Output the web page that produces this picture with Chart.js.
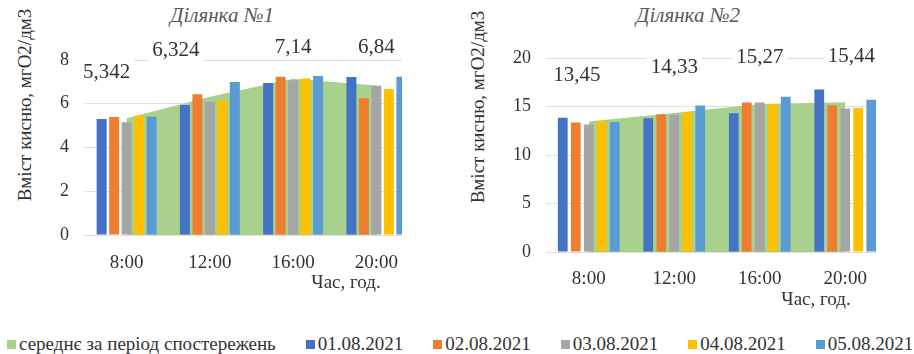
<!DOCTYPE html>
<html>
<head>
<meta charset="utf-8">
<script src="https://cdn.jsdelivr.net/npm/chart.js@4.4.1/dist/chart.umd.min.js"></script>
<style>
  body { margin: 0; width: 914px; height: 354px; background: #fff; position: relative; overflow: hidden;
         font-family: "Liberation Serif", "DejaVu Serif", serif; color: #333; }
  .clip { position: absolute; top: 0; height: 300px; overflow: hidden; }
  .txt { position: absolute; white-space: nowrap; transform: translate(-50%, -50%); }
  .title { font-style: italic; font-size: 21px; color: #595959; }
  .ytitle { font-size: 19px; transform: translate(-50%, -50%) rotate(-90deg); }
  .xtitle { font-size: 19px; }
  #legend { position: absolute; left: 7px; top: 333px; display: flex; gap: 30px; font-size: 19px; }
  #legend span.item { display: flex; align-items: center; white-space: nowrap; }
  #legend i { display: inline-block; width: 9px; height: 9px; margin-right: 3px; }
</style>
</head>
<body>

<div class="txt title" style="left:222px; top:15px;">Ділянка №1</div>
<div class="txt title" style="left:688px; top:15px;">Ділянка №2</div>
<div class="txt ytitle" style="left:25px; top:105px;">Вміст кисню, мгО2/дм3</div>
<div class="txt ytitle" style="left:478px; top:107px;">Вміст кисню, мгО2/дм3</div>

<div class="clip" style="left:0; width:402px;"><canvas id="chart1" width="418" height="300"></canvas></div>
<div class="clip" style="left:454px; width:422px;"><canvas id="chart2" width="434" height="300"></canvas></div>

<div class="txt xtitle" style="left:346px; top:282px;">Час, год.</div>
<div class="txt xtitle" style="left:816px; top:299px;">Час, год.</div>

<div id="legend"></div>

<script>
// Категорії та підписи
const hours = ['8:00', '12:00', '16:00', '20:00'];
const dates = ['01.08.2021', '02.08.2021', '03.08.2021', '04.08.2021', '05.08.2021'];
const avgLabel = 'середнє за період спостережень';

// Ділянка №1, мгО2/дм3
const site1Avg = [5.342, 6.324, 7.14, 6.84];
const site1Day1 = [5.30, 5.94, 6.95, 7.22];
const site1Day2 = [5.40, 6.44, 7.23, 6.25];
const site1Day3 = [5.15, 6.09, 7.08, 6.82];
const site1Day4 = [5.45, 6.16, 7.15, 6.68];
const site1Day5 = [5.41, 7.00, 7.27, 7.23];

// Ділянка №2, мгО2/дм3
const site2Avg = [13.45, 14.33, 15.27, 15.44];
const site2Day1 = [13.85, 13.80, 14.30, 16.75];
const site2Day2 = [13.35, 14.20, 15.40, 15.10];
const site2Day3 = [13.15, 14.15, 15.40, 14.80];
const site2Day4 = [13.50, 14.40, 15.22, 14.85];
const site2Day5 = [13.40, 15.10, 16.00, 15.70];

const dayColors = ['#4472c4', '#ed7d31', '#a5a5a5', '#ffc000', '#5b9bd5'];
const avgColor = '#a9d18e';
const serif = '"Liberation Serif", "DejaVu Serif", serif';

// легенда спільна для двох графіків
const legend = document.getElementById('legend');
[[avgLabel, avgColor]].concat(dates.map((d, i) => [d, dayColors[i]])).forEach(([label, color]) => {
  const el = document.createElement('span');
  el.className = 'item';
  el.innerHTML = '<i style="background:' + color + '"></i>' + label;
  legend.appendChild(el);
});

// підписи середніх значень (у білій рамці, над точками)
const avgLabelsPlugin = {
  id: 'avgLabels',
  afterDatasetsDraw(chart, args, opts) {
    const { ctx } = chart;
    const meta = chart.getDatasetMeta(0);
    ctx.save();
    ctx.font = '21px ' + serif;
    ctx.textAlign = 'center';
    ctx.textBaseline = 'middle';
    meta.data.forEach((pt, i) => {
      const text = String(chart.data.datasets[0].data[i]).replace('.', ',');
      const x = pt.x + (opts.shift[i] || 0);
      const y = Math.max(pt.y - 46, opts.minY);
      const w = ctx.measureText(text).width;
      ctx.fillStyle = '#fff';
      ctx.fillRect(x - w / 2 - 4, y - 13, w + 8, 26);
      ctx.fillStyle = '#333';
      ctx.fillText(text, x, y);
    });
    ctx.restore();
  }
};

function makeChart(id, avg, days, cfg) {
  const datasets = [{
    type: 'line',
    label: avgLabel,
    data: avg,
    backgroundColor: avgColor,
    borderColor: avgColor,
    borderWidth: 0,
    pointRadius: 0,
    fill: 'origin',
    tension: 0,
    order: 10
  }].concat(days.map((d, i) => ({
    type: 'bar',
    label: dates[i],
    data: d,
    backgroundColor: dayColors[i],
    borderWidth: 0,
    categoryPercentage: cfg.catPct,
    barPercentage: cfg.barPct,
    order: 1
  })));

  return new Chart(document.getElementById(id), {
    data: { labels: hours, datasets },
    plugins: [avgLabelsPlugin],
    options: {
      responsive: false,
      animation: false,
      devicePixelRatio: 1,
      layout: { padding: { top: cfg.top, right: 0, bottom: 0, left: 0 } },
      plugins: {
        legend: { display: false },
        tooltip: { enabled: false },
        avgLabels: { shift: cfg.shift, minY: cfg.minY }
      },
      scales: {
        x: {
          offset: true,
          grid: { display: false },
          border: { display: false },
          ticks: { color: '#333', font: { family: serif, size: 19 }, padding: cfg.xPad, maxRotation: 0 },
          afterFit: (s) => { s.height = cfg.xHeight; }
        },
        y: {
          min: 0,
          max: cfg.yMax,
          ticks: { stepSize: cfg.step, color: '#333', font: { family: serif, size: 18 }, padding: cfg.yPad },
          grid: { color: '#dedede', drawTicks: false },
          border: { display: false },
          afterFit: (s) => { s.width = cfg.yWidth; }
        }
      }
    }
  });
}

makeChart('chart1', site1Avg, [site1Day1, site1Day2, site1Day3, site1Day4, site1Day5], {
  yMax: 8, step: 2, top: 60, xHeight: 65, yWidth: 85, yPad: 16, xPad: 9,
  catPct: 0.75, barPct: 0.8, shift: [-20, -34, 0, 0], minY: 47
});

makeChart('chart2', site2Avg, [site2Day1, site2Day2, site2Day3, site2Day4, site2Day5], {
  yMax: 20, step: 5, top: 58, xHeight: 48, yWidth: 92, yPad: 15, xPad: 8,
  catPct: 0.76, barPct: 0.75, shift: [-12, 0, 0, 6], minY: 47
});
</script>
</body>
</html>
